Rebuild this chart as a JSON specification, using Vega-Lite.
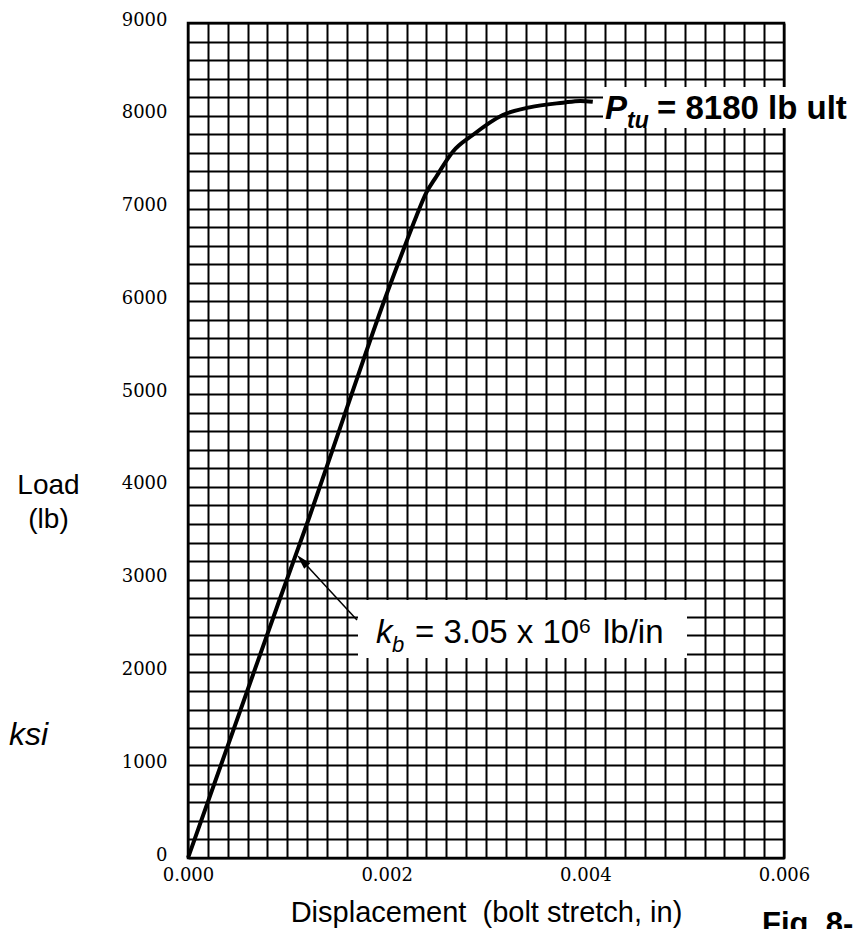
{
  "$schema": "https://vega.github.io/schema/vega-lite/v6.json",
  "width": 596,
  "height": 835,
  "autosize": {"type": "none"},
  "padding": {"left": 188, "top": 23, "right": 70, "bottom": 71},
  "background": "white",
  "config": {"view": {"stroke": "black", "strokeWidth": 2.5}},
  "encoding": {
    "x": {
      "field": "x", "type": "quantitative",
      "scale": {"domain": [0, 0.006], "nice": false, "zero": false},
      "axis": {
        "values": [0,0.0002,0.0004,0.0006,0.0008,0.001,0.0012,0.0014,0.0016,0.0018,0.002,0.0022,0.0024,0.0026,0.0028,0.003,0.0032,0.0034,0.0036,0.0038,0.004,0.0042,0.0044,0.0046,0.0048,0.005,0.0052,0.0054,0.0056,0.0058,0.006],
        "labelExpr": "abs(datum.value*500 - round(datum.value*500)) < 0.001 ? format(datum.value, '.3f') : ''",
        "grid": true, "gridColor": "black", "gridWidth": 2, "gridOpacity": 1,
        "ticks": false, "tickSize": 0, "domain": false,
        "labelFont": "DejaVu Serif", "labelFontSize": 18, "labelColor": "black",
        "labelPadding": 8, "labelOverlap": false, "labelBound": false, "labelFlush": false,
        "title": "Displacement\u00a0\u00a0(bolt stretch, in)",
        "titleFont": "Liberation Sans", "titleFontSize": 29, "titleFontWeight": "normal",
        "titleColor": "black", "titleY": 63, "titleBaseline": "alphabetic"
      }
    },
    "y": {
      "field": "y", "type": "quantitative",
      "scale": {"domain": [0, 9000], "nice": false, "zero": false},
      "axis": {
        "values": [0,200,400,600,800,1000,1200,1400,1600,1800,2000,2200,2400,2600,2800,3000,3200,3400,3600,3800,4000,4200,4400,4600,4800,5000,5200,5400,5600,5800,6000,6200,6400,6600,6800,7000,7200,7400,7600,7800,8000,8200,8400,8600,8800,9000],
        "labelExpr": "datum.value % 1000 == 0 ? format(datum.value, 'd') : ''",
        "grid": true, "gridColor": "black", "gridWidth": 2, "gridOpacity": 1,
        "ticks": false, "tickSize": 0, "domain": false,
        "labelFont": "DejaVu Serif", "labelFontSize": 18, "labelColor": "black",
        "labelPadding": 21, "labelOffset": -3, "labelOverlap": false, "labelBound": false, "labelFlush": false,
        "title": ["Load", "(lb)"],
        "titleFont": "Liberation Sans", "titleFontSize": 28, "titleFontWeight": "normal",
        "titleColor": "black", "titleAngle": 0, "titleX": -140, "titleY": 470,
        "titleAlign": "center", "titleBaseline": "alphabetic", "titleLineHeight": 34
      }
    }
  },
  "layer": [
    {
      "data": {"values": [
        {"x": 0.0017114, "x2": 0.0050235, "y": 2780.8, "y2": 2155.7},
        {"x": 0.0041779, "x2": 0.0068658, "y": 8310, "y2": 7868}
      ]},
      "mark": {"type": "rect", "fill": "white", "stroke": null},
      "encoding": {"x2": {"field": "x2"}, "y2": {"field": "y2"}}
    },
    {
      "data": {"values": [
        {"x": 0, "y": 0},
        {"x": 0.000921, "y": 2781},
        {"x": 0.001223, "y": 3678},
        {"x": 0.001593, "y": 4829},
        {"x": 0.001978, "y": 6014},
        {"x": 0.002180, "y": 6589},
        {"x": 0.002297, "y": 6912},
        {"x": 0.002398, "y": 7168},
        {"x": 0.002499, "y": 7343},
        {"x": 0.002666, "y": 7613},
        {"x": 0.002867, "y": 7793},
        {"x": 0.003169, "y": 8008},
        {"x": 0.003438, "y": 8091},
        {"x": 0.003773, "y": 8141},
        {"x": 0.003950, "y": 8160},
        {"x": 0.004075, "y": 8150}
      ]},
      "mark": {"type": "line", "color": "black", "strokeWidth": 4, "interpolate": "monotone"}
    },
    {
      "data": {"values": [
        {"x": 0.0017013, "y": 2565},
        {"x": 0.0011487, "y": 3206.6}
      ]},
      "mark": {"type": "line", "color": "black", "strokeWidth": 1.5}
    },
    {
      "data": {"values": [{"x": 0.0011487, "y": 3206.6}]},
      "mark": {"type": "point", "shape": "M0,-1L0.55,1L-0.55,1Z", "filled": true, "color": "black", "opacity": 1, "size": 225, "angle": 317}
    },
    {
      "data": {"values": [{"x": 0.0018926, "y": 2320.6, "t": "k"}]},
      "mark": {"type": "text", "font": "Liberation Sans", "fontSize": 33, "fontStyle": "italic", "align": "left", "baseline": "alphabetic", "color": "black"},
      "encoding": {"text": {"field": "t"}}
    },
    {
      "data": {"values": [{"x": 0.0020537, "y": 2223.6, "t": "b"}]},
      "mark": {"type": "text", "font": "Liberation Sans", "fontSize": 22, "fontStyle": "italic", "align": "left", "baseline": "alphabetic", "color": "black"},
      "encoding": {"text": {"field": "t"}}
    },
    {
      "data": {"values": [
        {"x": 0.0022852, "y": 2320.6, "t": "= 3.05 x 10"},
        {"x": 0.0041779, "y": 2320.6, "t": "lb/in"}
      ]},
      "mark": {"type": "text", "font": "Liberation Sans", "fontSize": 33, "align": "left", "baseline": "alphabetic", "color": "black"},
      "encoding": {"text": {"field": "t"}}
    },
    {
      "data": {"values": [{"x": 0.0039363, "y": 2428.4, "t": "6"}]},
      "mark": {"type": "text", "font": "Liberation Sans", "fontSize": 21, "align": "left", "baseline": "alphabetic", "color": "black"},
      "encoding": {"text": {"field": "t"}}
    },
    {
      "data": {"values": [{"x": 0.004198, "y": 7970.6, "t": "P"}]},
      "mark": {"type": "text", "font": "Liberation Sans", "fontSize": 33, "fontStyle": "italic", "fontWeight": "bold", "align": "left", "baseline": "alphabetic", "color": "black"},
      "encoding": {"text": {"field": "t"}}
    },
    {
      "data": {"values": [{"x": 0.0044195, "y": 7873.6, "t": "tu"}]},
      "mark": {"type": "text", "font": "Liberation Sans", "fontSize": 23, "fontStyle": "italic", "fontWeight": "bold", "align": "left", "baseline": "alphabetic", "color": "black"},
      "encoding": {"text": {"field": "t"}}
    },
    {
      "data": {"values": [{"x": 0.0047215, "y": 7965.2, "t": "= 8180 lb ult"}]},
      "mark": {"type": "text", "font": "Liberation Sans", "fontSize": 33, "fontWeight": "bold", "align": "left", "baseline": "alphabetic", "color": "black"},
      "encoding": {"text": {"field": "t"}}
    },
    {
      "data": {"values": [{"x": -0.0014094, "y": 1218, "t": "ksi"}]},
      "mark": {"type": "text", "font": "Liberation Sans", "fontSize": 32, "fontStyle": "italic", "align": "right", "baseline": "alphabetic", "color": "black"},
      "encoding": {"text": {"field": "t"}}
    },
    {
      "data": {"values": [{"x": 0.0057785, "y": -819, "t": "Fig. 8-"}]},
      "mark": {"type": "text", "font": "Liberation Sans", "fontSize": 31, "fontWeight": "bold", "align": "left", "baseline": "alphabetic", "color": "black"},
      "encoding": {"text": {"field": "t"}}
    }
  ]
}
